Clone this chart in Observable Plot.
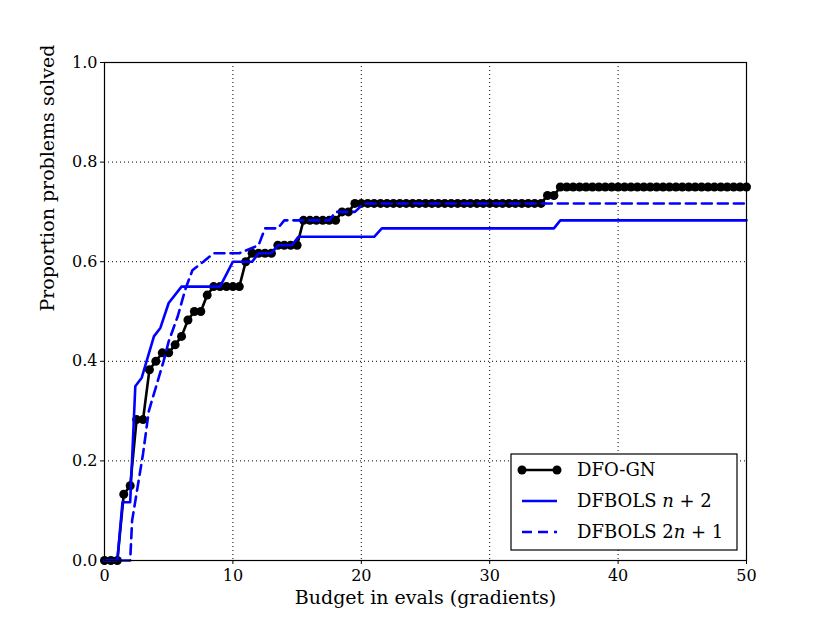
<!DOCTYPE html>
<html><head><meta charset="utf-8">
<script src="https://cdn.jsdelivr.net/npm/d3@7"></script>
<script src="https://cdn.jsdelivr.net/npm/@observablehq/plot@0.6"></script>
<style>
body{margin:0;background:#fff}
svg{font-family:"DejaVu Serif",serif}
</style>
</head><body><div id="chart"></div>
<script>
// ---- data ----
const xTicks = [0, 10, 20, 30, 40, 50];
const yTicks = [0.0, 0.2, 0.4, 0.6, 0.8, 1.0];
const seriesNames = ["DFO-GN", "DFBOLS n+2", "DFBOLS 2n+1"];

// DFO-GN: sampled every 0.5 budget units from 0 to 50
const gnBudget = d3.range(0, 50.001, 0.5);
const gnSolved = [
  0,0,0,0.133,0.15,0.283,0.283,0.383,0.4,0.417,0.417,0.433,0.45,0.483,0.5,0.5,0.533,
  0.55,0.55,0.55,0.55,0.55,0.6,0.617,0.617,0.617,0.617,0.633,0.633,0.633,0.633,
  0.683,0.683,0.683,0.683,0.683,0.683,0.7,0.7,
  0.717,0.717,0.717,0.717,0.717,0.717,0.717,0.717,0.717,0.717,
  0.717,0.717,0.717,0.717,0.717,0.717,0.717,0.717,0.717,0.717,
  0.717,0.717,0.717,0.717,0.717,0.717,0.717,0.717,0.717,0.717,
  0.733,0.733,
  0.75,0.75,0.75,0.75,0.75,0.75,0.75,0.75,0.75,0.75,
  0.75,0.75,0.75,0.75,0.75,0.75,0.75,0.75,0.75,0.75,
  0.75,0.75,0.75,0.75,0.75,0.75,0.75,0.75,0.75,0.75
];

// DFBOLS n+2
const np2Budget = [0,1,1.4,2,2.4,2.9,3.85,4.35,5,6,9,10,11.5,12,13,13.5,14.6,15.1,21,21.6,35,35.5,50];
const np2Solved = [0,0,0.117,0.117,0.35,0.367,0.45,0.467,0.517,0.55,0.55,0.6,0.6,0.617,0.617,0.633,0.633,0.65,0.65,0.667,0.667,0.683,0.683];

// DFBOLS 2n+1
const tnp1Budget = [0,2,2.15,3,3.45,4.6,5,5.7,6.3,6.85,7.7,8.5,10.5,12,12.5,13.5,14,17.5,18,19.5,20.2,50];
const tnp1Solved = [0,0,0.08,0.214,0.3,0.4,0.44,0.49,0.545,0.583,0.6,0.617,0.617,0.633,0.667,0.667,0.683,0.683,0.7,0.7,0.717,0.717];

// ---- tables ----
const gn = gnBudget.map((x, i) => ({x, y: gnSolved[i]}));
const np2 = np2Budget.map((x, i) => ({x, y: np2Solved[i]}));
const tnp1 = tnp1Budget.map((x, i) => ({x, y: tnp1Solved[i]}));

const BLUE = "#0000ff";

const plot = Plot.plot({
  width: 830, height: 623,
  marginLeft: 104, marginRight: 84, marginTop: 62, marginBottom: 63,
  style: {fontFamily: "DejaVu Serif", fontSize: "16px", background: "#fff", color: "black"},
  x: {domain: [0, 50]},
  y: {domain: [0, 1]},
  marks: [
    Plot.gridX(xTicks.slice(1, -1), {stroke: "black", strokeOpacity: 1, strokeWidth: 1, strokeDasharray: "1,3"}),
    Plot.gridY(yTicks.slice(1, -1), {stroke: "black", strokeOpacity: 1, strokeWidth: 1, strokeDasharray: "1,3"}),
    Plot.axisX({ticks: xTicks, tickSize: 4, tickPadding: 5, tickFormat: d => d, label: null}),
    Plot.axisY({ticks: yTicks, tickSize: 4, tickPadding: 3, tickFormat: d3.format(".1f"), label: null}),
    Plot.line(gn, {x: "x", y: "y", stroke: "black", strokeWidth: 2.6}),
    Plot.dot(gn, {x: "x", y: "y", r: 4.5, fill: "black", stroke: "none"}),
    Plot.line(np2, {x: "x", y: "y", stroke: BLUE, strokeWidth: 2.6}),
    Plot.line(tnp1, {x: "x", y: "y", stroke: BLUE, strokeWidth: 2.6, strokeDasharray: "10,6"}),
    Plot.frame({stroke: "black", strokeWidth: 1.2}),
    Plot.text(["Budget in evals (gradients)"], {frameAnchor: "bottom", dy: 43, fontSize: 19, fill: "black"}),
    Plot.text(["Proportion problems solved"], {frameAnchor: "left", dx: -57, rotate: -90, fontSize: 19, fill: "black"})
  ]
});

// ---- legend ----
const svg = d3.select(plot);
const lg = svg.append("g").attr("font-family", "DejaVu Serif").attr("font-size", 18).attr("text-anchor", "start");
lg.append("rect").attr("x", 511).attr("y", 454).attr("width", 226).attr("height", 96)
  .attr("fill", "white").attr("stroke", "black").attr("stroke-width", 1.2);
const rows = [470, 501, 532];
lg.append("line").attr("x1", 522).attr("x2", 557).attr("y1", rows[0]).attr("y2", rows[0])
  .attr("stroke", "black").attr("stroke-width", 2.6);
[522, 557].forEach(cx => lg.append("circle").attr("cx", cx).attr("cy", rows[0]).attr("r", 4.5).attr("fill", "black"));
lg.append("line").attr("x1", 522).attr("x2", 557).attr("y1", rows[1]).attr("y2", rows[1])
  .attr("stroke", BLUE).attr("stroke-width", 2.6);
lg.append("line").attr("x1", 522).attr("x2", 557).attr("y1", rows[2]).attr("y2", rows[2])
  .attr("stroke", BLUE).attr("stroke-width", 2.6).attr("stroke-dasharray", "10,6");

const t0 = lg.append("text").attr("x", 577).attr("y", rows[0]).attr("dy", "0.36em").text(seriesNames[0]);
const t1 = lg.append("text").attr("x", 577).attr("y", rows[1]).attr("dy", "0.36em");
t1.append("tspan").text("DFBOLS ");
t1.append("tspan").attr("font-style", "italic").text("n");
t1.append("tspan").text(" + 2");
const t2 = lg.append("text").attr("x", 577).attr("y", rows[2]).attr("dy", "0.36em");
t2.append("tspan").text("DFBOLS 2");
t2.append("tspan").attr("font-style", "italic").text("n");
t2.append("tspan").text(" + 1");

document.getElementById("chart").appendChild(plot);
</script>
</body></html>
